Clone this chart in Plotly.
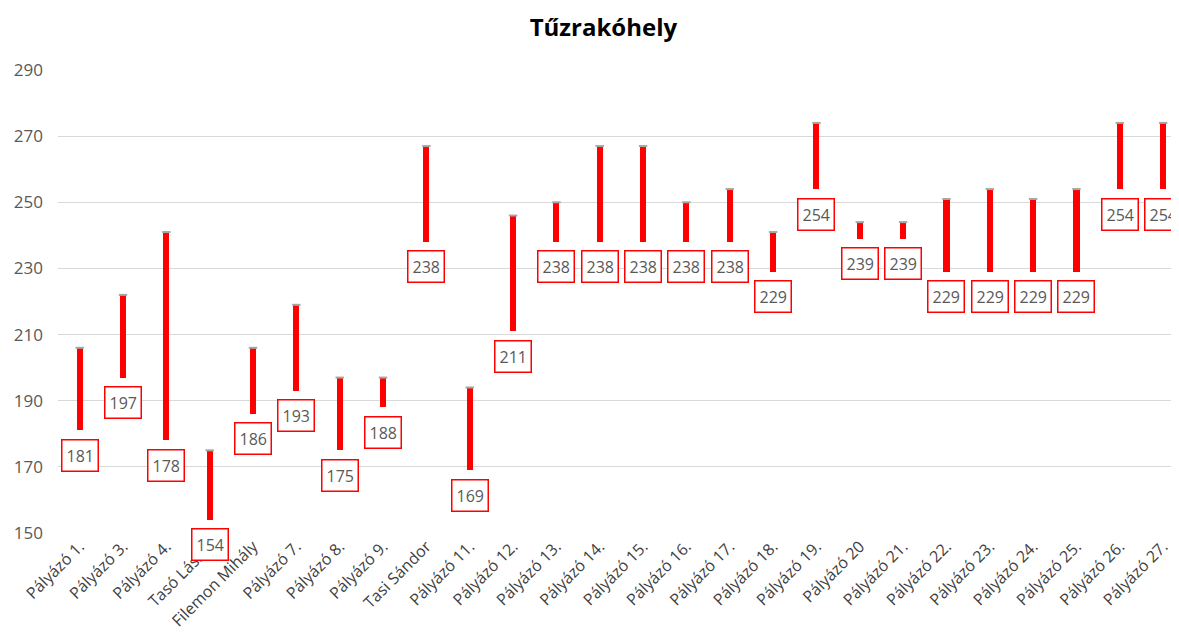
import plotly.graph_objects as go

categories = ["Pályázó 1.", "Pályázó 3.", "Pályázó 4.", "Tasó László", "Filemon Mihály",
              "Pályázó 7.", "Pályázó 8.", "Pályázó 9.", "Tasi Sándor", "Pályázó 11.",
              "Pályázó 12.", "Pályázó 13.", "Pályázó 14.", "Pályázó 15.", "Pályázó 16.",
              "Pályázó 17.", "Pályázó 18.", "Pályázó 19.", "Pályázó 20", "Pályázó 21.",
              "Pályázó 22.", "Pályázó 23.", "Pályázó 24.", "Pályázó 25.", "Pályázó 26.",
              "Pályázó 27."]
low_values = [181, 197, 178, 154, 186, 193, 175, 188, 238, 169, 211, 238, 238, 238, 238,
              238, 229, 254, 239, 239, 229, 229, 229, 229, 254, 254]
high_values = [206, 222, 241, 175, 206, 219, 197, 197, 267, 194, 246, 250, 267, 267, 250,
               254, 241, 274, 244, 244, 251, 254, 251, 254, 274, 274]
y_ticks = [150, 170, 190, 210, 230, 250, 270, 290]

FONT = "'Open Sans', Lato, sans-serif"

fig = go.Figure()
fig.add_trace(go.Bar(
    x=categories,
    y=[h - l for h, l in zip(high_values, low_values)],
    base=low_values,
    width=0.14,
    marker=dict(color="#ff0000", line=dict(width=0)),
    hoverinfo="skip",
    showlegend=False,
))
fig.add_trace(go.Scatter(
    x=categories, y=high_values, mode="markers",
    marker=dict(symbol="line-ew", size=6, color="#a6a6a6", line=dict(width=2, color="#a6a6a6")),
    showlegend=False, hoverinfo="skip",
))

for c, l in zip(categories, low_values):
    fig.add_annotation(
        x=c, y=l, xref="x", yref="y", text=str(l), showarrow=False,
        yshift=-25, font=dict(family=FONT, size=16, color="#595959"),
        bordercolor="#ff0000", borderwidth=1.5, borderpad=4, bgcolor="white",
    )

fig.update_layout(
    width=1179, height=644,
    margin=dict(l=50, r=0, t=62, b=119),
    paper_bgcolor="white", plot_bgcolor="white",
    title=dict(text="<b>Tűzrakóhely</b>", x=0.505, xanchor="center", y=0.969, yanchor="middle",
               font=dict(family=FONT, size=24, color="#000000")),
    xaxis=dict(range=[-0.5, 25.55], tickangle=-45, showgrid=False, showline=False,
               ticks="", automargin=False,
               tickfont=dict(family=FONT, size=16, color="#404040")),
    yaxis=dict(range=[150, 290], tickvals=y_ticks, showgrid=True, gridcolor="#d9d9d9",
               gridwidth=1, zeroline=False, showline=False, ticks="", automargin=False,
               ticklabelstandoff=14,
               tickfont=dict(family=FONT, size=17, color="#595959")),
    bargap=0,
)

fig.write_html("out.html")
